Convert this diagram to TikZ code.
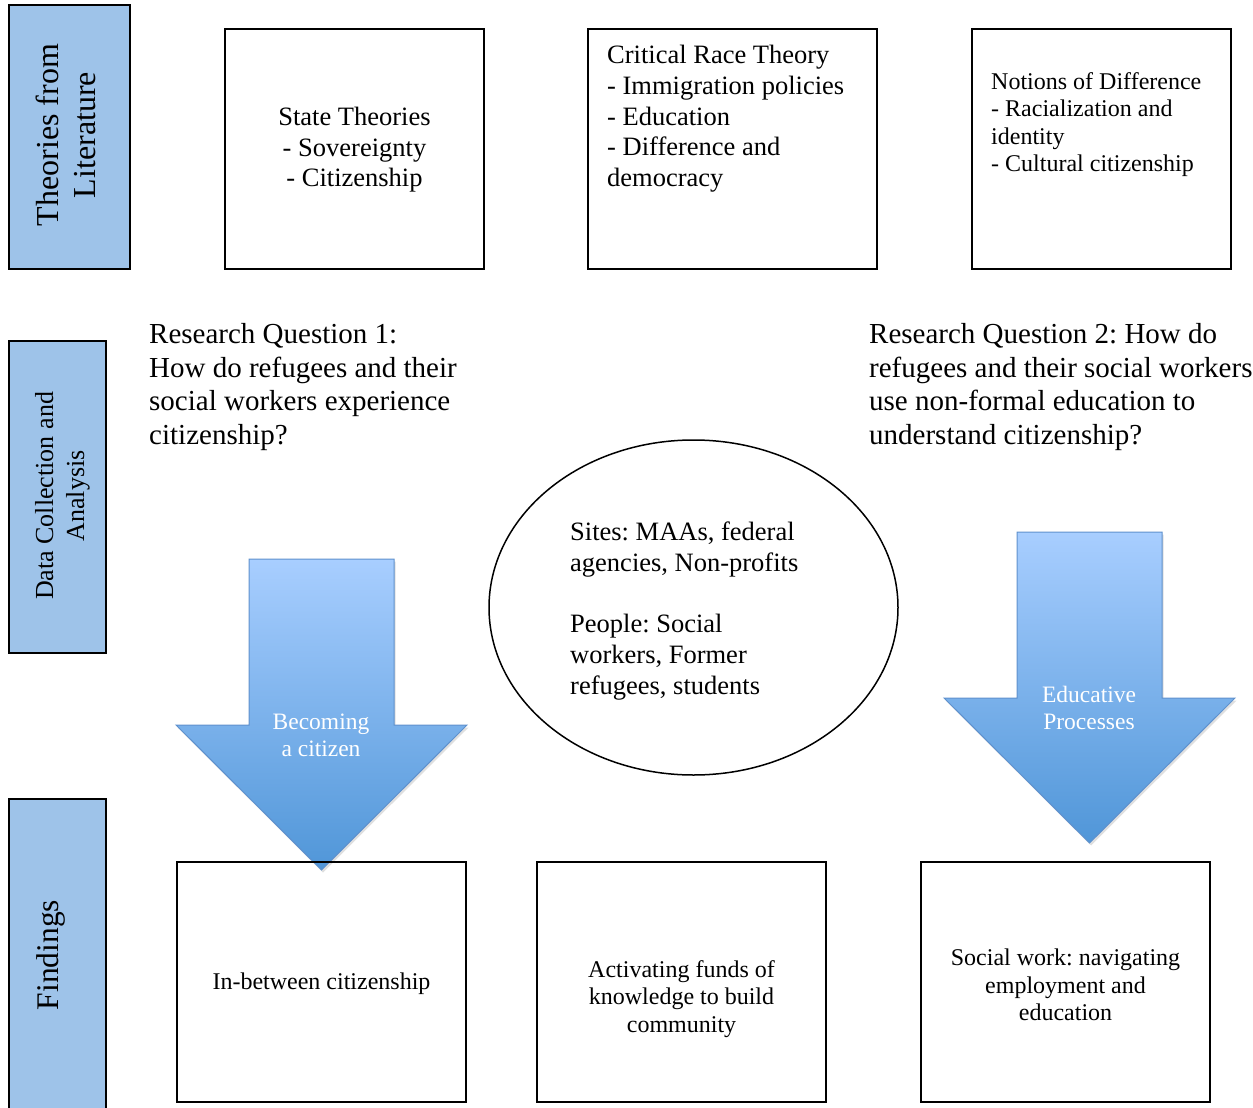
\documentclass[tikz,border=0pt]{standalone}
\usepackage{fontspec}
\setmainfont{Liberation Serif}
\usetikzlibrary{shapes.geometric,shadows}
\definecolor{barblue}{RGB}{158,195,233}
\definecolor{arrtop}{RGB}{168,206,255}
\definecolor{arrbot}{RGB}{80,150,216}
\definecolor{arredge}{RGB}{95,145,205}
\newcommand{\fsz}[2]{\fontsize{#1}{#2}\selectfont}
\frenchspacing
\begin{document}
\begin{tikzpicture}[x=1pt,y=-1pt,
  sidebar/.style={draw=black, line width=1.5pt, fill=barblue, rotate=90, inner sep=0pt},
  sidetext/.style={rotate=90, align=center, inner sep=0pt},
  framebox/.style={draw=black, line width=1.5pt, inner sep=0pt, align=center},
  txt/.style={inner sep=0pt, align=left, anchor=north west},
  arrowtext/.style={inner sep=0pt, align=center, text=white, font=\fsz{23.5}{27}},
  bigarrow/.style={top color=arrtop, bottom color=arrbot, draw=arredge, line width=1pt,
    drop shadow={opacity=0.25, shadow xshift=1.5pt, shadow yshift=-2.5pt}},
]
\useasboundingbox (0,0) rectangle (1253,1108);

% side bars
\node[sidebar, minimum width=264pt, minimum height=121pt] (bar1) at (69.5,137) {};
\node[sidetext, font=\fsz{32}{37}] (bar1text) at (65.5,135) {Theories from\\Literature};
\node[sidebar, minimum width=312pt, minimum height=97pt] (bar2) at (57.5,497) {};
\node[sidetext, font=\fsz{26}{31}] (bar2text) at (62.5,496) {Data Collection and\\Analysis};
\node[sidebar, minimum width=318pt, minimum height=97pt] (bar3) at (57.5,958) {};
\node[sidetext, font=\fsz{31.5}{36}] (bar3text) at (51,955) {Findings};

% theory boxes
\node[framebox, minimum width=259pt, minimum height=240pt] (state) at (354.5,149) {};
\node[inner sep=0pt, align=center, font=\fsz{26.5}{30.5}] (statetext) at (354.5,150) {State Theories\\- Sovereignty\\- Citizenship};
\node[framebox, minimum width=289pt, minimum height=240pt] (crt) at (732.5,149) {};
\node[txt, font=\fsz{26.5}{30.8}] (crttext) at (607,45) {Critical Race Theory\\- Immigration policies\\- Education\\- Difference and\\democracy};
\node[framebox, minimum width=259pt, minimum height=240pt] (nod) at (1101.5,149) {};
\node[txt, font=\fsz{24}{27.5}] (nodtext) at (991,72) {Notions of Difference\\- Racialization and\\identity\\- Cultural citizenship};

% research questions
\node[txt, font=\fsz{29}{33.7}] (rq1) at (149,323) {Research Question 1:\\How do refugees and their\\social workers experience\\citizenship?};
\node[txt, font=\fsz{29}{33.7}] (rq2) at (869,323) {Research Question 2: How do\\refugees and their social workers\\use non-formal education to\\understand citizenship?};

% ellipse
\node[draw=black, line width=1.5pt, ellipse, minimum width=409pt, minimum height=335pt, inner sep=0pt] (sites) at (693.5,607.5) {};
\node[txt, font=\fsz{26.5}{31}] (sitestext) at (570,522) {Sites: MAAs, federal\\agencies, Non-profits\\[30pt]People: Social\\workers, Former\\refugees, students};

% big arrows
\shade[bigarrow] (249,559) -- (394,559) -- (394,725) -- (467,725) -- (321.5,870) -- (176,725) -- (249,725) -- cycle;
\node[arrowtext] (arr1text) at (321,735) {Becoming\\a citizen};
\shade[bigarrow] (1017,532) -- (1162,532) -- (1162,698) -- (1235,698) -- (1089.5,843) -- (944,698) -- (1017,698) -- cycle;
\node[arrowtext] (arr2text) at (1089,708) {Educative\\Processes};

% finding boxes
\node[framebox, minimum width=289pt, minimum height=240pt] (f1) at (321.5,982) {};
\node[inner sep=0pt, align=center, font=\fsz{24}{27.5}] (f1text) at (321.5,984) {In-between citizenship};
\node[framebox, minimum width=289pt, minimum height=240pt] (f2) at (681.5,982) {};
\node[inner sep=0pt, align=center, font=\fsz{24}{27.5}] (f2text) at (681.5,999) {Activating funds of\\knowledge to build\\community};
\node[framebox, minimum width=289pt, minimum height=240pt] (f3) at (1065.5,982) {};
\node[inner sep=0pt, align=center, font=\fsz{24}{27.5}] (f3text) at (1065.5,985) {Social work: navigating\\employment and\\education};
\end{tikzpicture}
\end{document}
